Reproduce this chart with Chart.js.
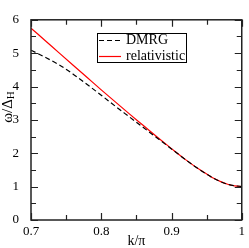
<!DOCTYPE html>
<html><head><meta charset="utf-8">
<script src="https://cdn.jsdelivr.net/npm/chart.js@4/dist/chart.umd.min.js"></script>
<style>html,body{margin:0;padding:0;background:#fff;overflow:hidden}</style>
</head><body>
<canvas id="c" width="249" height="248" style="display:block;width:249px;height:248px"></canvas>
<script>
const dmrgK   = [0.70,0.72,0.74,0.76,0.78,0.80,0.82,0.84,0.86,0.88,0.90,0.92,0.94,0.96,0.98,1.00];
const dmrgW   = [5.09,4.88,4.65,4.37,4.06,3.74,3.41,3.09,2.77,2.45,2.13,1.81,1.51,1.25,1.07,1.00];
const relK    = [0.70,0.72,0.74,0.76,0.78,0.80,0.82,0.84,0.86,0.88,0.90,0.92,0.94,0.95,0.96,0.97,0.98,0.99,1.00];
const relW    = [5.75,5.38,5.01,4.64,4.27,3.90,3.54,3.18,2.83,2.48,2.14,1.81,1.51,1.38,1.25,1.15,1.07,1.02,1.00];
const xTicks  = [0.7,0.8,0.9,1];
const xLabels = ['0.7','0.8','0.9','1'];
const xMinor  = [0.75,0.85,0.95];
const yTicks  = [0,1,2,3,4,5,6];
const yMinor  = [0.5,1.5,2.5,3.5,4.5,5.5];
const seriesNames = ['DMRG','relativistic'];
const xTitle = 'k/π';
const yTitleMain = 'ω/Δ';
const yTitleSub = 'H';

const FONT = '"Liberation Serif","Times New Roman",serif';

const decor = {
  id:'decor',
  afterDatasetsDraw(chart){
    const ctx = chart.ctx, a = chart.chartArea;
    const xs = chart.scales.x, ys = chart.scales.y;
    ctx.save();
    ctx.strokeStyle = '#222'; ctx.lineWidth = 1.5;
    ctx.strokeRect(a.left, a.top, a.right-a.left, a.bottom-a.top);
    ctx.lineWidth = 1.2;
    const tick = (vals, len, horiz) => {
      vals.forEach(v=>{
        ctx.beginPath();
        if (horiz){
          const p = Math.round(xs.getPixelForValue(v))+0.5;
          ctx.moveTo(p,a.bottom); ctx.lineTo(p,a.bottom-len);
          ctx.moveTo(p,a.top); ctx.lineTo(p,a.top+len);
        } else {
          const p = Math.round(ys.getPixelForValue(v))+0.5;
          ctx.moveTo(a.left,p); ctx.lineTo(a.left+len,p);
          ctx.moveTo(a.right,p); ctx.lineTo(a.right-len,p);
        }
        ctx.stroke();
      });
    };
    tick(xTicks,7,true); tick(xMinor,5,true);
    tick(yTicks,7,false); tick(yMinor,5,false);

    // legend
    ctx.lineWidth = 1;
    ctx.strokeStyle = '#000';
    ctx.strokeRect(97.5,33.5,89,29);
    const ds = chart.data.datasets;
    const rows = [40,56];
    ds.forEach((d,i)=>{
      ctx.save();
      ctx.strokeStyle = d.borderColor; ctx.lineWidth = d.borderWidth;
      ctx.setLineDash(d.borderDash||[]);
      ctx.beginPath(); ctx.moveTo(99,rows[i]+0.5); ctx.lineTo(121,rows[i]+0.5); ctx.stroke();
      ctx.restore();
      ctx.fillStyle = '#000'; ctx.font = '14px '+FONT;
      ctx.textBaseline = 'middle'; ctx.textAlign = 'left';
      ctx.fillText(d.label,126,rows[i]);
    });

    // axis titles
    ctx.fillStyle = '#000';
    ctx.font = '14px '+FONT; ctx.textAlign='center'; ctx.textBaseline='middle';
    ctx.fillText(xTitle,(a.left+a.right)/2,241);
    ctx.save();
    ctx.translate(8,107);
    ctx.rotate(-Math.PI/2);
    ctx.font = '15px '+FONT; ctx.textAlign='left'; ctx.textBaseline='middle';
    const wMain = ctx.measureText(yTitleMain).width;
    ctx.font = '11px '+FONT;
    const wSub = ctx.measureText(yTitleSub).width;
    const start = -(wMain+wSub)/2;
    ctx.font = '15px '+FONT;
    ctx.fillText(yTitleMain,start,0);
    ctx.font = '11px '+FONT;
    ctx.fillText(yTitleSub,start+wMain,3);
    ctx.restore();
    ctx.restore();
  }
};

new Chart(document.getElementById('c'),{
  type:'line',
  data:{datasets:[
    {label:seriesNames[0],data:dmrgK.map((k,i)=>({x:k,y:dmrgW[i]})),borderColor:'#000',borderWidth:1.2,borderDash:[5,3],pointRadius:0,fill:false,cubicInterpolationMode:'monotone'},
    {label:seriesNames[1],data:relK.map((k,i)=>({x:k,y:relW[i]})),borderColor:'#ff0000',borderWidth:1.2,pointRadius:0,fill:false,cubicInterpolationMode:'monotone'}
  ]},
  options:{
    responsive:false,animation:false,devicePixelRatio:1,
    layout:{padding:{top:5,right:4,left:0,bottom:0}},
    plugins:{legend:{display:false},tooltip:{enabled:false}},
    scales:{
      x:{type:'linear',min:0.7,max:1,
        afterBuildTicks:s=>{s.ticks=xTicks.map(v=>({value:v}));},
        afterFit:s=>{s.height=28;},
        grid:{display:false,drawTicks:false},border:{display:false},
        ticks:{autoSkip:false,maxRotation:0,padding:4,color:'#000',font:{family:FONT,size:13},
          callback:(v)=>{const i=xTicks.indexOf(v);return i>=0?xLabels[i]:'';}}},
      y:{type:'linear',min:0,max:6,
        afterBuildTicks:s=>{s.ticks=yTicks.map(v=>({value:v}));},
        afterFit:s=>{s.width=31;},
        grid:{display:false,drawTicks:false},border:{display:false},
        ticks:{autoSkip:false,padding:12,color:'#000',font:{family:FONT,size:13},callback:v=>String(v)}}
    }
  },
  plugins:[decor]
});
</script>
</body></html>
